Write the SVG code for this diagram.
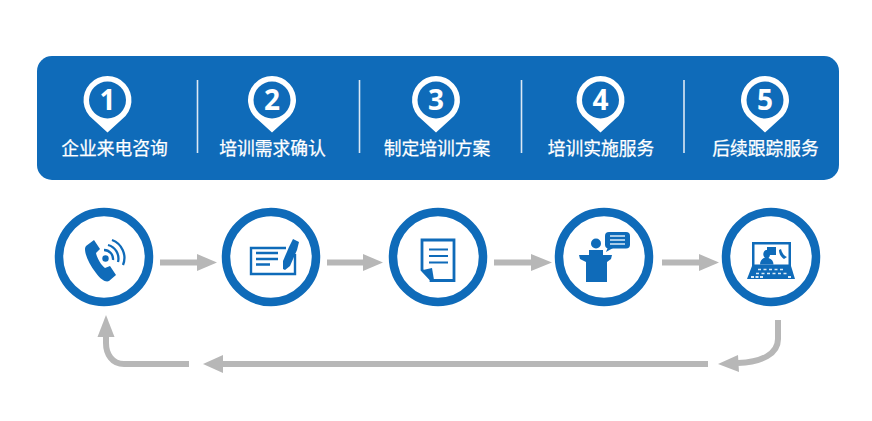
<svg xmlns="http://www.w3.org/2000/svg" width="872" height="421" viewBox="0 0 872 421">
<style>
.lbl{font-family:"Noto Sans CJK SC","Noto Sans",sans-serif;font-size:17.8px;fill:#fff;text-anchor:middle;stroke:#fff;stroke-width:.25px}
.num{font-family:"Open Sans","Liberation Sans",sans-serif;font-weight:700;font-size:28px;fill:#fff;text-anchor:middle}
.pin{fill:#fff}
.pinc{fill:#0f6bb9;stroke:none}
.sep{stroke:#dbe8f4;stroke-width:1.6}
.ring{fill:#fff;stroke:#0f6bb9;stroke-width:8.5}
.ic{fill:#0f6bb9}
.icl{fill:none;stroke:#0f6bb9}
.cn{fill:none;stroke:#b7b7b7;stroke-width:6}
.hd{fill:#b7b7b7}
</style>
<defs>
<path id="pinshape" d="M-14.5 19.2A24 24 0 1 1 14.5 19.2L0 32.5Z"/>
</defs>
<rect width="872" height="421" fill="#fff"/>
<rect id="panel" x="37" y="56" width="802" height="124" rx="15" fill="#0f6bb9"/>
<g id="separators">
<line class="sep" x1="197.500" y1="80" x2="197.500" y2="153"/>
<line class="sep" x1="359.500" y1="80" x2="359.500" y2="153"/>
<line class="sep" x1="521.500" y1="80" x2="521.500" y2="153"/>
<line class="sep" x1="684" y1="80" x2="684" y2="153"/>
</g>
<g id="step1"><use class="pin" href="#pinshape" x="107.500" y="100"/><circle class="pinc" cx="107.500" cy="100" r="18.500"/><text class="num" x="107.500" y="110">1</text><text class="lbl" x="114.500" y="155">企业来电咨询</text></g>
<g id="step2"><use class="pin" href="#pinshape" x="272" y="100"/><circle class="pinc" cx="272" cy="100" r="18.500"/><text class="num" x="272" y="110">2</text><text class="lbl" x="272.500" y="155">培训需求确认</text></g>
<g id="step3"><use class="pin" href="#pinshape" x="436" y="100"/><circle class="pinc" cx="436" cy="100" r="18.500"/><text class="num" x="436" y="110">3</text><text class="lbl" x="437" y="155">制定培训方案</text></g>
<g id="step4"><use class="pin" href="#pinshape" x="600.500" y="100"/><circle class="pinc" cx="600.500" cy="100" r="18.500"/><text class="num" x="600.500" y="110">4</text><text class="lbl" x="601" y="155">培训实施服务</text></g>
<g id="step5"><use class="pin" href="#pinshape" x="765" y="100"/><circle class="pinc" cx="765" cy="100" r="18.500"/><text class="num" x="765" y="110">5</text><text class="lbl" x="765.500" y="155">后续跟踪服务</text></g>

<g id="node-phone"><circle class="ring" cx="104" cy="257" r="45"/>
<path class="ic" d="M86 246l8-6 6 9-4 4c1 5 5 12 9 15l5-2 6 9-7 6c-3 1.500-8-1-13-8-7-9-11-18-11-24 0-1 .3-2 1-3z"/>
<circle class="ic" cx="105.500" cy="258.500" r="3.200"/>
<path class="icl" stroke-width="2.300" d="M104 250a9 9 0 0 1 9 10M108 245a14 14 0 0 1 10 17M112 240a19 19 0 0 1 11 25"/>
</g>
<g id="node-sign"><circle class="ring" cx="271" cy="257" r="45"/>
<path class="icl" stroke-width="2.400" d="M286 248H251V274H295V254"/>
<path class="icl" stroke-width="2.400" d="M256 253H278M256 259H278M256 264.500H270"/>
<path class="ic" d="M293 239l6 3-2 8-7 16-5 4-2-1 0-8 6-14z"/>
</g>
<g id="node-doc"><circle class="ring" cx="438" cy="257" r="45"/>
<path class="icl" stroke-width="2.800" d="M431 279.500L422 270V240H454V280.500H431Z"/>
<path class="icl" stroke-width="2.200" d="M429 249.500H448M429 256H448M429 262.500H448"/>
<path class="ic" d="M423 270l9-2 2 12-3 1z"/>
</g>
<g id="node-speaker"><circle class="ring" cx="604" cy="257" r="45"/>
<circle class="ic" cx="596" cy="243.500" r="5"/>
<path class="ic" d="M589 250h14v8h-14z"/>
<path class="ic" d="M579 255h33l-1 4-4 3v20h-21v-20l-6-3z"/>
<rect class="ic" x="605" y="232" width="25" height="16.500" rx="4"/><path class="ic" d="M608 247l-2 5 7-4z"/>
<path stroke="#dcebf7" stroke-width="1.300" d="M610 236h15M610 240h15M610 244h15"/>
</g>
<g id="node-laptop"><circle class="ring" cx="771" cy="257" r="45"/>
<path class="ic" d="M752 242h39v24h-39z"/>
<path fill="#fff" d="M754.500 244.500h34v20h-34z"/>
<path class="ic" d="M760 264.500c0-4 2-6 5-7-2-1-2.500-5 0-7 3-1.500 5 1 5 4 0 2-1 3-1.500 3.500 3 1 5 3 5 6.500z"/>
<path class="ic" d="M767 247h9v8h-9zM781 249c1 4 3 7 6 8l-3 2c-3-2-5-5-5-9z"/>
<path class="ic" d="M752 266h39l4 13h-48z"/>
<path stroke="#dcebf7" stroke-width="1.500" stroke-dasharray="3 2.500" d="M758 269.500h27M756 273.500h31"/>
<path stroke="#dcebf7" stroke-width="1.800" stroke-dasharray="3 1.500" d="M751 277h13M788 277h3"/>
</g>

<g id="connectors">
<path class="cn" d="M160 262.500H198"/><path class="hd" d="M197 254L217 262.500 197 271Z"/>
<path class="cn" d="M327 262.500H364"/><path class="hd" d="M363 254L383 262.500 363 271Z"/>
<path class="cn" d="M494 262.500H532"/><path class="hd" d="M531 254L552 262.500 531 271Z"/>
<path class="cn" d="M662 262.500H700"/><path class="hd" d="M699 254L719 262.500 699 271Z"/>
<path class="cn" d="M778 320V339C778 354 762 362 738 363"/><path class="hd" d="M718 364L738 355 739 372Z"/>
<path class="cn" d="M708 364H222"/><path class="hd" d="M223 355L203 364 223 373Z"/>
<path class="cn" d="M189 364H124C112 364 106 354 106 343V336"/><path class="hd" d="M106 315L97.500 337H114.500Z"/>
</g>
</svg>
